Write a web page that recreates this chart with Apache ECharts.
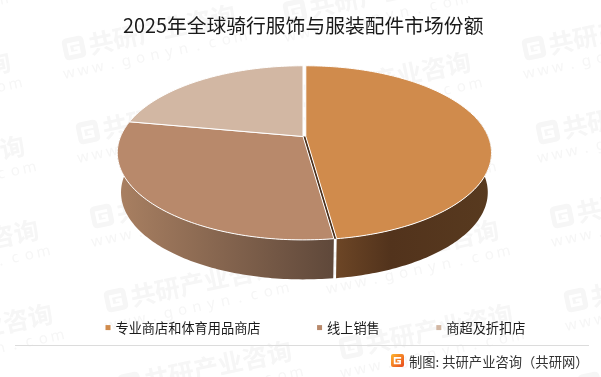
<!DOCTYPE html>
<html>
<head>
    <meta charset="utf-8">
    <title>2025年全球骑行服饰与服装配件市场份额</title>
    <script src="https://cdn.jsdelivr.net/npm/echarts@6/dist/echarts.min.js"></script>
    <style>
        html, body { margin: 0; padding: 0; background: #fff; }
    </style>
</head>
<body>
<div id="main" style="width: 601px;height:377px;"></div>
<script type="text/javascript">
    var titleText = '2025年全球骑行服饰与服装配件市场份额';
    var categories = ['专业商店和体育用品商店', '线上销售', '商超及折扣店'];
    var shares = [47.8, 30.1, 22.1];
    var colors = ['#d08b4c', '#b8896b', '#d2b7a3'];
    var wallStops = [
        [[0, '#6d4626'], [0.35, '#52331c'], [1, '#583a1f']],
        [[0, '#a98062'], [1, '#5f483a']],
        [[0, '#8f7766'], [1, '#8f7766']]
    ];

    // 透视饼图的几何参数，顶面和底面各一个投影
    var cx = 303, topY = 136.5, bottomY = 176;
    var rx = 182.4, ry = 84, k = 0.1875, bottomRx = 0.98, bottomRy = 1;
    var explodeX = 2.8;
    var wallFrom = 72, wallTo = 280;

    function project(deg, offsetX, isBottom) {
        var a = deg * Math.PI / 180;
        var u = Math.sin(a), v = -Math.cos(a);
        var d = 1 - k * v;
        return [
            cx + offsetX + rx * (isBottom ? bottomRx : 1) * u / d,
            (isBottom ? bottomY : topY) + ry * (isBottom ? bottomRy : 1) * v / d
        ];
    }

    function arc(from, to, offsetX, isBottom) {
        var pts = [];
        var n = Math.max(2, Math.ceil(Math.abs(to - from)));
        for (var i = 0; i <= n; i++) {
            pts.push(project(from + (to - from) * i / n, offsetX, isBottom));
        }
        return pts;
    }

    var total = shares.reduce(function (a, b) { return a + b; }, 0);
    function startAngle(idx) {
        var sum = 0;
        for (var i = 0; i < idx; i++) sum += shares[i];
        return sum / total * 360;
    }

    function renderSlice(idx) {
        return function (params, api) {
            var from = startAngle(idx);
            var to = from + api.value(0) / total * 360;
            var off = idx === 0 ? explodeX : 0;
            var children = [];

            // 外侧面
            var wFrom = Math.max(from, wallFrom), wTo = Math.min(to, wallTo);
            if (wTo > wFrom) {
                var top = arc(wFrom, wTo, off, false);
                var bottom = arc(wFrom, wTo, off, true).reverse();
                children.push({
                    type: 'polygon',
                    shape: { points: top.concat(bottom) },
                    style: {
                        fill: {
                            type: 'linear', x: 0, y: 0, x2: 1, y2: 0,
                            colorStops: wallStops[idx].map(function (s) {
                                return { offset: s[0], color: s[1] };
                            })
                        }
                    }
                });
            }

            // 第一块分离出来后，和第二块之间露出的切面
            if (idx === 0) {
                children.push({
                    type: 'polygon',
                    shape: { points: [[cx + off, topY], project(to, off, false), project(to, 0, false), [cx, topY]] },
                    style: { fill: '#4a2f1b' }
                });
            }

            // 顶面
            children.push({
                type: 'polygon',
                shape: { points: [[cx + off, topY]].concat(arc(from, to, off, false)) },
                style: { fill: colors[idx], stroke: '#fff', lineWidth: 1, lineJoin: 'round' }
            });
            return { type: 'group', children: children };
        };
    }

    function logoG(x, y, size, fill) {
        return [{
            type: 'rect',
            shape: { x: x, y: y, width: size, height: size, r: size * 0.2 },
            style: { fill: fill }
        }, {
            type: 'polyline',
            shape: { points: [
                [x + size * 0.78, y + size * 0.3],
                [x + size * 0.28, y + size * 0.3],
                [x + size * 0.28, y + size * 0.72],
                [x + size * 0.7, y + size * 0.72],
                [x + size * 0.7, y + size * 0.52],
                [x + size * 0.48, y + size * 0.52]
            ] },
            style: { stroke: '#fff', fill: null, lineWidth: size * 0.13 }
        }];
    }

    // 水印
    var markText = '共研产业咨询';
    var markUrl = 'www.gonyn.com';
    var markColumns = [
        [74, 48], [534, 48], [309, 95], [-151, 95]
    ];
    var markColor = '#f6f6f6';
    var graphics = [];
    markColumns.forEach(function (col) {
        for (var r = -1; r < 5; r++) {
            var children = logoG(-11, -11, 22, markColor);
            children.push({
                type: 'text',
                x: 15, y: 0,
                style: {
                    text: markText, fill: markColor,
                    font: 'bold 25px "Noto Sans CJK SC"',
                    verticalAlign: 'middle'
                }
            });
            markUrl.split('').forEach(function (c, i) {
                children.push({
                    type: 'text',
                    x: -10 + i * 14.6, y: 24,
                    style: {
                        text: c, fill: markColor,
                        font: '15px "Noto Sans"',
                        verticalAlign: 'middle', align: 'center'
                    }
                });
            });
            graphics.push({
                type: 'group',
                x: col[0] + 14 * r, y: col[1] + 84 * r,
                rotation: 12 * Math.PI / 180,
                silent: true,
                children: children
            });
        }
    });

    // 底部分隔线和来源
    graphics.push({
        type: 'line',
        shape: { x1: 15, y1: 345.5, x2: 589, y2: 345.5 },
        style: { stroke: '#dcdcdc', lineWidth: 1 }
    });
    graphics.push({
        type: 'group',
        children: [{
            type: 'rect',
            shape: { x: 391, y: 354, width: 13, height: 13, r: 2 },
            style: {
                fill: {
                    type: 'linear', x: 0, y: 0, x2: 1, y2: 1,
                    colorStops: [{ offset: 0, color: '#ffb52e' }, { offset: 1, color: '#e8481c' }]
                }
            }
        }, logoG(391, 354, 13, 'rgba(0,0,0,0)')[1]]
    });
    graphics.push({
        type: 'text',
        x: 409, y: 362,
        style: {
            text: '制图: 共研产业咨询（共研网）', fill: '#333',
            font: '13.3px "Noto Sans CJK SC"',
            verticalAlign: 'middle'
        }
    });

    var myChart = echarts.init(document.getElementById('main'), null, { renderer: 'canvas' });
    var option = {
        animation: false,
        color: colors,
        title: {
            text: titleText,
            left: 118,
            top: 11,
            textStyle: {
                fontFamily: 'Noto Sans CJK SC',
                fontSize: 19.8,
                fontWeight: 'normal',
                color: '#1a1a1a'
            }
        },
        legend: {
            data: categories,
            left: 100.5,
            top: 316,
            icon: 'rect',
            itemWidth: 5,
            itemHeight: 5,
            itemGap: 56.5,
            textStyle: {
                fontFamily: 'Noto Sans CJK SC',
                fontSize: 13.2,
                color: '#1a1a1a'
            }
        },
        graphic: { elements: graphics },
        series: categories.map(function (name, i) {
            return {
                name: name,
                type: 'custom',
                coordinateSystem: 'none',
                silent: true,
                renderItem: renderSlice(i),
                data: [[shares[i]]]
            };
        })
    };
    myChart.setOption(option);
</script>
</body>
</html>
